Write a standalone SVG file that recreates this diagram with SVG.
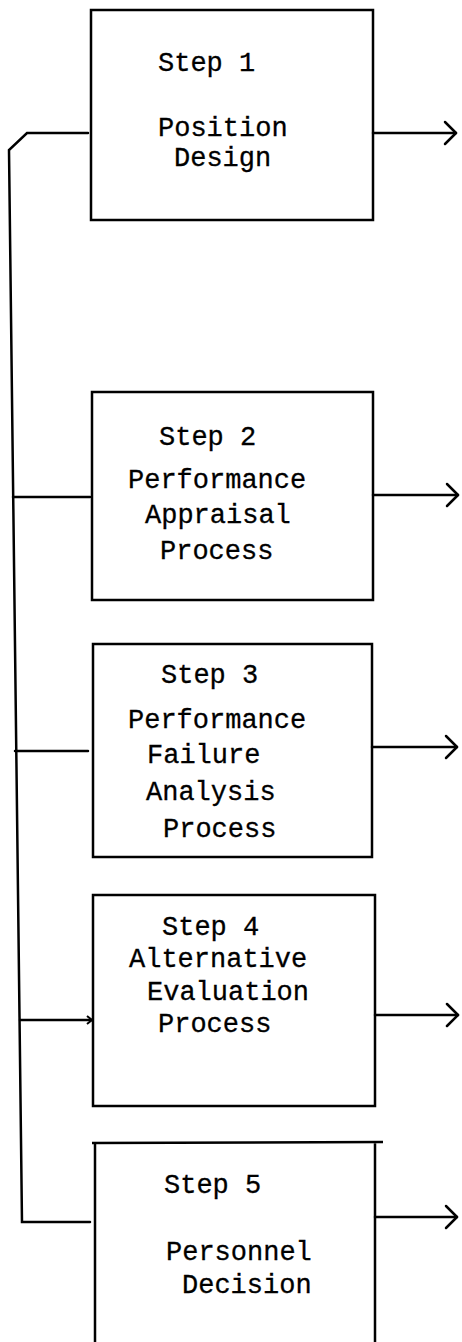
<svg xmlns="http://www.w3.org/2000/svg" width="462" height="1342" viewBox="0 0 462 1342">
<style>
.box{fill:none;stroke:#000;stroke-width:2.5}
.ln{fill:none;stroke:#000;stroke-width:2.5;stroke-linecap:round}
.t{font-family:"Liberation Mono","DejaVu Sans Mono",monospace;font-size:27px;fill:#000;stroke:#000;stroke-width:0.3}
</style>
<defs>
<marker id="ah" markerWidth="16" markerHeight="28" refX="13" refY="13" orient="auto" markerUnits="userSpaceOnUse">
<path d="M2,2 L13,13 L2,24" fill="none" stroke="#000" stroke-width="2.5" stroke-linecap="round" stroke-linejoin="round"/>
</marker>
<marker id="ahs" markerWidth="8" markerHeight="10" refX="6" refY="5" orient="auto" markerUnits="userSpaceOnUse">
<path d="M1,1 L6,5 L1,9" fill="none" stroke="#000" stroke-width="2"/>
</marker>
</defs>
<rect width="462" height="1342" fill="#fff"/>
<g id="connectors">
<path class="ln" d="M88,133 L27,133 L9,150 L22,1222 L90,1222"/>
<line class="ln" x1="13" y1="497" x2="90" y2="497"/>
<line class="ln" x1="15" y1="751" x2="88" y2="751"/>
<line class="ln" x1="20" y1="1020" x2="92" y2="1020" marker-end="url(#ahs)"/>
<line class="ln" x1="373" y1="133" x2="456" y2="133" marker-end="url(#ah)"/>
<line class="ln" x1="373" y1="495" x2="458" y2="495" marker-end="url(#ah)"/>
<line class="ln" x1="372" y1="747" x2="457" y2="747" marker-end="url(#ah)"/>
<line class="ln" x1="375" y1="1015" x2="458" y2="1015" marker-end="url(#ah)"/>
<line class="ln" x1="375" y1="1217" x2="457" y2="1217" marker-end="url(#ah)"/>
</g>
<g id="step1">
<rect class="box" x="91" y="10" width="282" height="210"/>
<text class="t" x="158" y="71">Step 1</text>
<text class="t" x="158" y="136">Position</text>
<text class="t" x="174" y="166">Design</text>
</g>
<g id="step2">
<rect class="box" x="92" y="392" width="281" height="208"/>
<text class="t" x="159" y="445">Step 2</text>
<text class="t" x="128" y="488">Performance</text>
<text class="t" x="145" y="523">Appraisal</text>
<text class="t" x="160" y="559">Process</text>
</g>
<g id="step3">
<rect class="box" x="93" y="644" width="279" height="213"/>
<text class="t" x="161" y="683">Step 3</text>
<text class="t" x="128" y="728">Performance</text>
<text class="t" x="147" y="763">Failure</text>
<text class="t" x="146" y="800">Analysis</text>
<text class="t" x="163" y="837">Process</text>
</g>
<g id="step4">
<rect class="box" x="93" y="895" width="282" height="211"/>
<text class="t" x="162" y="935">Step 4</text>
<text class="t" x="129" y="967">Alternative</text>
<text class="t" x="147" y="1000">Evaluation</text>
<text class="t" x="158" y="1032">Process</text>
</g>
<g id="step5">
<path class="box" d="M95,1342 L95,1144 M92,1143 L383,1142 M375,1143 L375,1342"/>
<text class="t" x="164" y="1193">Step 5</text>
<text class="t" x="166" y="1260">Personnel</text>
<text class="t" x="182" y="1293">Decision</text>
</g>
</svg>
